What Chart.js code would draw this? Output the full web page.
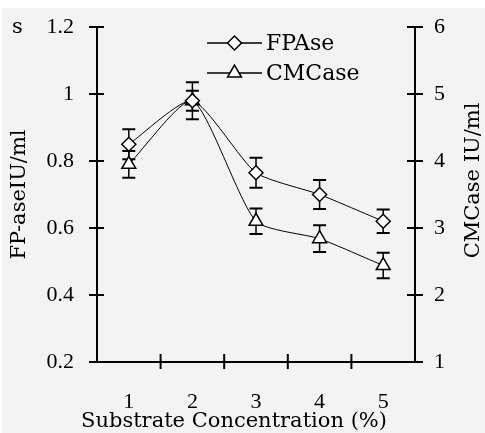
<!DOCTYPE html>
<html>
<head>
<meta charset="utf-8">
<script src="https://cdn.jsdelivr.net/npm/chart.js@4/dist/chart.umd.min.js"></script>
<style>
html,body{margin:0;padding:0;background:#ffffff;}
#wrap{width:485px;height:433px;}
</style>
</head>
<body>
<div id="wrap"><canvas id="c" width="485" height="433"></canvas></div>
<script>
// ---- data ----
const categories = ['1', '2', '3', '4', '5'];
const fpase = [0.85, 0.98, 0.765, 0.70, 0.62];
const fpaseErr = [0.045, 0.055, 0.045, 0.043, 0.035];
const cmcase = [3.95, 4.9, 3.1, 2.84, 2.44];
const cmcaseErr = [0.2, 0.15, 0.19, 0.2, 0.19];
const leftTicks = [0.2, 0.4, 0.6, 0.8, 1, 1.2];
const leftTickLabels = ['0.2', '0.4', '0.6', '0.8', '1', '1.2'];
const rightTicks = [1, 2, 3, 4, 5, 6];
const rightTickLabels = ['1', '2', '3', '4', '5', '6'];
const xTitle = 'Substrate Concentration (%)';
const yLeftTitle = 'FP-aseIU/ml';
const yRightTitle = 'CMCase IU/ml';
const cornerLabel = 's';

const SERIF = '"DejaVu Serif", serif';
const TICKFONT = '"Liberation Serif", serif';

const custom = {
  id: 'custom',
  beforeDraw(chart) {
    const ctx = chart.ctx;
    ctx.save();
    ctx.fillStyle = '#ffffff';
    ctx.fillRect(0, 0, chart.width, chart.height);
    ctx.fillStyle = '#f3f3f3';
    ctx.fillRect(2, 8, chart.width - 2, chart.height - 8);
    ctx.restore();
  },
  beforeDatasetsDraw(chart) {
    const ctx = chart.ctx;
    const xs = chart.scales.x;
    const sets = [[fpase, fpaseErr, chart.scales.y], [cmcase, cmcaseErr, chart.scales.y2]];
    ctx.save();
    ctx.strokeStyle = '#000';
    sets.forEach(([vals, errs, ys]) => {
      vals.forEach((v, j) => {
        const x = xs.getPixelForValue(j);
        const t = ys.getPixelForValue(v + errs[j]);
        const b = ys.getPixelForValue(v - errs[j]);
        ctx.lineWidth = 1.5;
        ctx.beginPath(); ctx.moveTo(x, t); ctx.lineTo(x, b); ctx.stroke();
        ctx.lineWidth = 2;
        ctx.beginPath();
        ctx.moveTo(x - 6.5, t); ctx.lineTo(x + 6.5, t);
        ctx.moveTo(x - 6.5, b); ctx.lineTo(x + 6.5, b);
        ctx.stroke();
      });
    });
    ctx.restore();
  },
  afterDraw(chart) {
    const ctx = chart.ctx;
    const a = chart.chartArea;
    const xs = chart.scales.x, yl = chart.scales.y, yr = chart.scales.y2;
    ctx.save();
    ctx.strokeStyle = '#000';
    ctx.lineWidth = 2;
    ctx.beginPath();
    ctx.moveTo(a.left, a.top); ctx.lineTo(a.left, a.bottom);
    ctx.moveTo(a.right, a.top); ctx.lineTo(a.right, a.bottom);
    ctx.moveTo(a.left - 8, a.bottom); ctx.lineTo(a.right + 8, a.bottom);
    yl.ticks.forEach(t => {
      const y = yl.getPixelForValue(t.value);
      ctx.moveTo(a.left - 8, y); ctx.lineTo(a.left + 7, y);
    });
    yr.ticks.forEach(t => {
      const y = yr.getPixelForValue(t.value);
      ctx.moveTo(a.right - 8, y); ctx.lineTo(a.right + 8, y);
    });
    const half = (xs.getPixelForValue(1) - xs.getPixelForValue(0)) / 2;
    for (let j = 1; j < categories.length; j++) {
      const bx = xs.getPixelForValue(j) - half;
      ctx.moveTo(bx, a.bottom - 8); ctx.lineTo(bx, a.bottom + 7);
    }
    ctx.stroke();

    // legend
    const legendX0 = a.left + 110, legendX1 = a.left + 165;
    const rows = [a.top + 16, a.top + 46];
    ctx.font = '22px ' + SERIF;
    ctx.textBaseline = 'middle';
    ctx.textAlign = 'left';
    chart.data.datasets.forEach((ds, i) => {
      const y = rows[i];
      ctx.strokeStyle = '#000';
      ctx.lineWidth = 1.5;
      ctx.beginPath(); ctx.moveTo(legendX0, y); ctx.lineTo(legendX1, y); ctx.stroke();
      ctx.fillStyle = '#fff';
      ctx.strokeStyle = '#000';
      ctx.lineWidth = ds.pointBorderWidth;
      Chart.helpers.drawPoint(ctx, {
        pointStyle: ds.pointStyle, radius: ds.pointRadius, borderWidth: ds.pointBorderWidth
      }, (legendX0 + legendX1) / 2, y);
      ctx.fillStyle = '#000';
      ctx.fillText(ds.label, legendX1 + 4, y + 1);
    });

    // x axis title
    ctx.fillStyle = '#000';
    ctx.font = '21px ' + SERIF;
    ctx.textAlign = 'center';
    ctx.textBaseline = 'alphabetic';
    ctx.fillText(xTitle, (a.left + a.right) / 2 - 22, chart.height - 6);

    // right axis title (reads bottom to top)
    ctx.save();
    ctx.translate(chart.width - 6, (a.top + a.bottom) / 2 - 14);
    ctx.rotate(-Math.PI / 2);
    ctx.textAlign = 'center';
    ctx.textBaseline = 'alphabetic';
    ctx.font = '21px ' + SERIF;
    ctx.fillText(yRightTitle, 0, 0);
    ctx.restore();

    // corner label
    ctx.textAlign = 'left';
    ctx.font = '21px ' + SERIF;
    ctx.fillText(cornerLabel, 12, 33);
    ctx.restore();
  }
};

new Chart(document.getElementById('c'), {
  type: 'line',
  data: {
    labels: categories,
    datasets: [
      {
        label: 'FPAse', data: fpase, yAxisID: 'y',
        borderColor: '#000', borderWidth: 1, tension: 0.2,
        pointStyle: 'rectRot', pointRadius: 7, pointBorderWidth: 1.5,
        pointBackgroundColor: '#fff', pointBorderColor: '#000'
      },
      {
        label: 'CMCase', data: cmcase, yAxisID: 'y2',
        borderColor: '#000', borderWidth: 1, tension: 0.2,
        pointStyle: 'triangle', pointRadius: 8, pointBorderWidth: 1.5,
        pointBackgroundColor: '#fff', pointBorderColor: '#000'
      }
    ]
  },
  options: {
    responsive: false,
    animation: false,
    devicePixelRatio: 1,
    layout: { padding: { top: 27, right: 0, bottom: 0, left: 0 } },
    plugins: { legend: { display: false }, tooltip: { enabled: false } },
    scales: {
      x: {
        type: 'category', offset: true,
        grid: { display: false }, border: { display: false },
        ticks: { color: '#000', font: { family: TICKFONT, size: 22 }, padding: 19, maxRotation: 0 },
        title: { display: false, text: xTitle },
        afterFit: s => { s.height = 71; }
      },
      y: {
        position: 'left', min: 0.2, max: 1.2,
        afterBuildTicks: s => { s.ticks = leftTicks.map(v => ({ value: v })); },
        grid: { display: false }, border: { display: false },
        ticks: { color: '#000', font: { family: TICKFONT, size: 22 }, padding: 15,
          callback: (v, i) => leftTickLabels[i] },
        title: { display: true, text: yLeftTitle, color: '#000', font: { family: SERIF, size: 21 }, padding: { top: 7, bottom: 0 } },
        afterFit: s => { s.width = 97; s.paddingTop = 0; s.paddingBottom = 0; }
      },
      y2: {
        position: 'right', min: 1, max: 6,
        afterBuildTicks: s => { s.ticks = rightTicks.map(v => ({ value: v })); },
        grid: { display: false }, border: { display: false },
        ticks: { color: '#000', font: { family: TICKFONT, size: 22 }, padding: 11,
          callback: (v, i) => rightTickLabels[i] },
        afterFit: s => { s.width = 70; s.paddingTop = 0; s.paddingBottom = 0; }
      }
    }
  },
  plugins: [custom]
});
</script>
</body>
</html>
